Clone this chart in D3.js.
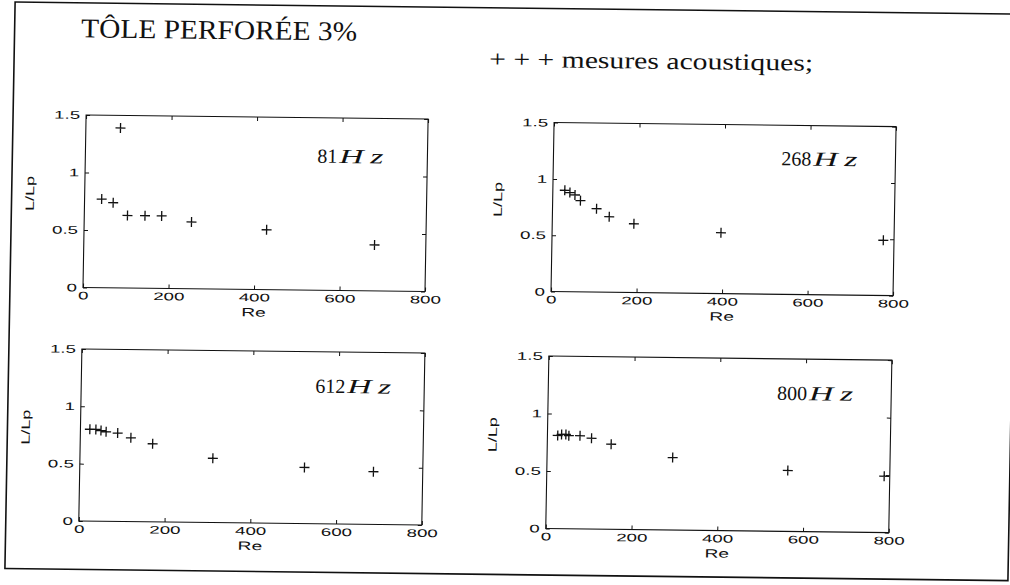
<!DOCTYPE html>
<html><head><meta charset="utf-8">
<script src="https://cdn.jsdelivr.net/npm/d3@7"></script>
<style>
html,body{margin:0;padding:0;background:#fff;}
svg{display:block;}
</style></head>
<body>
<svg id="chart" width="1010" height="585"></svg>
<script>
// ---------- data ----------
const titleText = "TÔLE PERFORÉE 3%";
const legendText = "+ + + mesures acoustiques;";
const xLabel = "Re";
const yLabel = "L/Lp";
const xTicks = [0, 200, 400, 600, 800];
const xTickLabels = ["0", "200", "400", "600", "800"];
const yTicks = [0, 0.5, 1, 1.5];
const yTickLabels = ["0", "0.5", "1", "1.5"];
const freqLabels = ["81", "268", "612", "800"];
const freqUnit = "Hz";

const re81  = [40, 67, 81, 101, 142, 181, 251, 427, 680];
const v81   = [0.77, 0.74, 1.39, 0.63, 0.63, 0.63, 0.58, 0.52, 0.40];
const re268 = [28, 40, 52, 65, 103, 133, 191, 395, 775];
const v268  = [0.90, 0.88, 0.86, 0.81, 0.74, 0.67, 0.61, 0.54, 0.49];
const re612 = [22, 36, 48, 60, 87, 118, 169, 310, 524, 685];
const v612  = [0.80, 0.80, 0.79, 0.78, 0.77, 0.73, 0.68, 0.56, 0.49, 0.46];
const re800 = [24, 33, 43, 50, 76, 103, 149, 293, 562, 787];
const v800  = [0.81, 0.82, 0.82, 0.81, 0.81, 0.79, 0.74, 0.63, 0.53, 0.49];

const seriesRe = [re81, re268, re612, re800];
const seriesV  = [v81, v268, v612, v800];

// ---------- layout ----------
const panels = [
  {x: 83,  y: 120,   w: 342, h: 172.5, fx: 232, fy: 45},
  {x: 551, y: 122,   w: 342, h: 169,   fx: 228, fy: 40},
  {x: 83,  y: 354,   w: 343, h: 172,   fx: 234, fy: 41},
  {x: 550, y: 355.5, w: 343, h: 172.5, fx: 229, fy: 41}
];
const serif = "'Liberation Serif','Times New Roman',serif";
const sans = "'Liberation Sans',Arial,sans-serif";
const ink = "#111";

const svg = d3.select("#chart");
svg.append("rect").attr("width", 1010).attr("height", 585).attr("fill", "#fff");
// scanned page is slightly skewed
const g = svg.append("g").attr("transform", "matrix(1,0.012,-0.018,1,5.256,-6.06)");

g.append("rect").attr("x", 10).attr("y", 8).attr("width", 1003).attr("height", 566.5)
  .attr("fill", "none").attr("stroke", ink).attr("stroke-width", 1.6);

g.append("text").attr("x", 76.5).attr("y", 42.4)
  .attr("font-family", serif).attr("font-size", 27).attr("fill", ink)
  .attr("textLength", 276).attr("lengthAdjust", "spacingAndGlyphs")
  .text(titleText);

g.append("text").attr("x", 485).attr("y", 67)
  .attr("font-family", serif).attr("font-size", 23.5).attr("fill", ink)
  .attr("textLength", 324).attr("lengthAdjust", "spacingAndGlyphs")
  .text(legendText);

function styleAxis(sel, labels) {
  sel.select(".domain").remove();
  sel.selectAll(".tick line").attr("stroke", ink).attr("stroke-width", 1);
  if (labels) {
    sel.selectAll(".tick text").attr("font-family", sans).attr("font-size", 11)
      .attr("fill", ink).attr("transform", "scale(1.7,1)");
  } else {
    sel.selectAll(".tick text").remove();
  }
}

panels.forEach((L, i) => {
  const x = d3.scaleLinear().domain([0, 800]).range([L.x, L.x + L.w]);
  const y = d3.scaleLinear().domain([0, 1.5]).range([L.y + L.h, L.y]);
  const pg = g.append("g");

  pg.append("g").attr("transform", `translate(0,${L.y + L.h})`)
    .call(d3.axisBottom(x).tickValues(xTicks).tickFormat((d, j) => xTickLabels[j])
      .tickSizeInner(-4).tickSizeOuter(0).tickPadding(4))
    .call(s => styleAxis(s, true));
  pg.append("g").attr("transform", `translate(0,${L.y})`)
    .call(d3.axisTop(x).tickValues(xTicks).tickSizeInner(-4).tickSizeOuter(0))
    .call(s => styleAxis(s, false));
  pg.append("g").attr("transform", `translate(${L.x},0)`)
    .call(d3.axisLeft(y).tickValues(yTicks).tickFormat((d, j) => yTickLabels[j])
      .tickSizeInner(-4).tickSizeOuter(0).tickPadding(3.5))
    .call(s => styleAxis(s, true));
  pg.append("g").attr("transform", `translate(${L.x + L.w},0)`)
    .call(d3.axisRight(y).tickValues(yTicks).tickSizeInner(-4).tickSizeOuter(0))
    .call(s => styleAxis(s, false));

  pg.append("rect").attr("x", L.x).attr("y", L.y).attr("width", L.w).attr("height", L.h)
    .attr("fill", "none").attr("stroke", ink).attr("stroke-width", 1.1);

  pg.append("text").attr("text-anchor", "middle")
    .attr("transform", `translate(${L.x + L.w / 2},${L.y + L.h + 27}) scale(1.6,1)`)
    .attr("font-family", sans).attr("font-size", 12).attr("fill", ink).text(xLabel);
  pg.append("text").attr("text-anchor", "middle")
    .attr("transform", `translate(${L.x - 50.7},${L.y + L.h / 2 - 7}) rotate(-90) scale(1.5,1)`)
    .attr("font-family", sans).attr("font-size", 12).attr("fill", ink).text(yLabel);

  const ft = pg.append("text").attr("x", L.x + L.fx).attr("y", L.y + L.fy)
    .attr("font-family", serif).attr("font-size", 20).attr("fill", ink).text(freqLabels[i]);
  const fw = ft.node().getComputedTextLength();
  const ht = pg.append("text").attr("x", L.x + L.fx + fw + 2).attr("y", L.y + L.fy)
    .attr("font-family", serif).attr("font-style", "italic").attr("font-size", 20).attr("fill", ink)
    .attr("textLength", 44).attr("lengthAdjust", "spacingAndGlyphs");
  ht.append("tspan").text(freqUnit[0]);
  ht.append("tspan").attr("dx", 4).text(freqUnit[1]);

  const pts = seriesRe[i].map((r, k) => [r, seriesV[i][k]]);
  pg.selectAll("path.pt").data(pts).enter().append("path")
    .attr("class", "pt")
    .attr("transform", d => `translate(${x(d[0])},${y(d[1])})`)
    .attr("d", "M-5,0H5M0,-5V5")
    .attr("stroke", ink).attr("stroke-width", 1.3).attr("fill", "none");
});
</script>
</body></html>
